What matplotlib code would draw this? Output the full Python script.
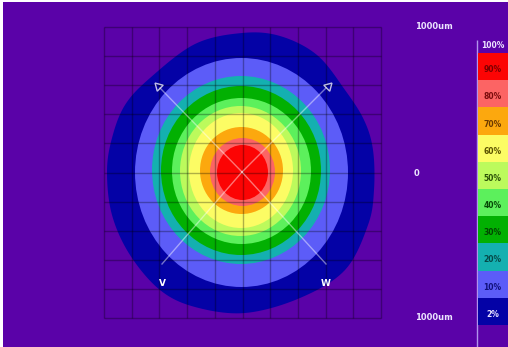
###############################
#####   Import Libraries  #####
###############################
import matplotlib
matplotlib.use("Agg")
import matplotlib.pyplot as plt
import matplotlib.patches as mpatches
import numpy as np

###############################
#####   Data (read off)   #####
###############################
# Intensity levels shown on the colour scale (percent of peak)
levels = [2, 10, 20, 30, 40, 50, 60, 70, 80, 90]
level_labels = ["2%", "10%", "20%", "30%", "40%", "50%", "60%", "70%", "80%", "90%"]
level_colors = ["#0402a6", "#5c5cf8", "#14b0b0", "#02b002", "#5cf05c",
                "#bcfa5c", "#fcfc64", "#fca80e", "#fc6464", "#fc0404"]
label_colors = ["#e8e0ff", "#10107a", "#064848", "#024402", "#064806",
                "#2a5008", "#5a5000", "#6a3800", "#7a0c0c", "#7a0000"]

# Outer 2% contour, points traced round the beam (pixel coordinates)
outer_x = [242, 280, 317, 345, 364, 373, 374, 368, 345, 300, 245, 195, 160, 130,
           112, 107, 112, 125, 150, 195]
outer_y = [33, 36, 55, 90, 120, 150, 190, 225, 270, 298, 313, 307, 290, 255,
           215, 172, 138, 105, 78, 44]

# Extents of the inner contours 10% .. 90% (left, right, top, bottom)
ring_left = [135, 152, 161, 172, 180, 189, 200, 210, 217]
ring_right = [348, 330, 321, 311, 301, 293, 283, 275, 268]
ring_top = [58, 76, 86, 98, 106, 113, 127, 138, 145]
ring_bottom = [287, 264, 255, 244, 236, 228, 214, 206, 200]

axis_labels = ["1000um", "0", "1000um"]
direction_labels = ["V", "W"]

background = "#5a02a8"


def smooth_closed(xs, ys, n=12):
    # closed Catmull-Rom curve through the traced points
    px = np.array(xs, float)
    py = np.array(ys, float)
    out_x, out_y = [], []
    m = len(px)
    t = np.linspace(0, 1, n, endpoint=False)
    for i in range(m):
        p0, p1, p2, p3 = (i - 1) % m, i, (i + 1) % m, (i + 2) % m
        for arr, out in ((px, out_x), (py, out_y)):
            a0, a1, a2, a3 = arr[p0], arr[p1], arr[p2], arr[p3]
            out.extend(0.5 * ((2 * a1) + (-a0 + a2) * t
                              + (2 * a0 - 5 * a1 + 4 * a2 - a3) * t ** 2
                              + (-a0 + 3 * a1 - 3 * a2 + a3) * t ** 3))
    return np.column_stack([out_x, out_y])


####################################
##       Build the figure         ##
####################################
W, H = 508, 347
fig = plt.figure(figsize=(W / 100, H / 100), dpi=100, facecolor="white")
ax = fig.add_axes([0, 0, 1, 1])
ax.set_xlim(0, W)
ax.set_ylim(H, 0)
ax.axis("off")

# purple canvas with a thin white frame on the left / top
ax.add_patch(mpatches.Rectangle((2.5, 1.5), W + 10, H + 10, color=background,
                                lw=0, zorder=0, clip_on=False))

# outer 2% region
ax.add_patch(mpatches.Polygon(smooth_closed(outer_x, outer_y), closed=True,
                              color=level_colors[0], lw=0, zorder=1))
# inner contour regions
for i in range(len(ring_left)):
    cx = (ring_left[i] + ring_right[i]) / 2
    cy = (ring_top[i] + ring_bottom[i]) / 2
    ax.add_patch(mpatches.Ellipse((cx, cy), ring_right[i] - ring_left[i],
                                  ring_bottom[i] - ring_top[i],
                                  color=level_colors[i + 1], lw=0, zorder=2 + i))

# measurement grid
gx = np.linspace(104, 381, 11)
gy = np.linspace(27, 318, 11)
ax.vlines(gx, gy[0], gy[-1], color="black", alpha=0.3, lw=1, zorder=20)
ax.hlines(gy, gx[0], gx[-1], color="black", alpha=0.3, lw=1, zorder=20)

# diagonal axes through the centre
cx0, cy0 = 242, 172
line_kw = dict(color="white", alpha=0.45, lw=1, zorder=21)
ax.plot([cx0, 160], [cy0, 88], **line_kw)
ax.plot([cx0, 326], [cy0, 88], **line_kw)
ax.plot([cx0, 162], [cy0, 264], **line_kw)
ax.plot([cx0, 326], [cy0, 264], **line_kw)
ax.plot(158, 86, marker=(3, 0, 45), ms=7, mfc="none", mec="white", mew=1,
        alpha=0.75, zorder=22)
ax.plot(328, 86, marker=(3, 0, -45), ms=7, mfc="none", mec="white", mew=1,
        alpha=0.75, zorder=22)
ax.text(162, 284, direction_labels[0], color="white", fontsize=6.5,
        fontweight="bold", ha="center", va="center", zorder=23)
ax.text(326, 284, direction_labels[1], color="white", fontsize=6.5,
        fontweight="bold", ha="center", va="center", zorder=23)

# scale labels
txt_kw = dict(color="#ece4ff", fontsize=6, fontweight="bold", va="center", zorder=23)
ax.text(415, 26, axis_labels[0], ha="left", **txt_kw)
ax.text(416, 173, axis_labels[1], ha="center", **txt_kw)
ax.text(415, 318, axis_labels[2], ha="left", **txt_kw)

####################################
##        Colour scale bar        ##
####################################
bar_x0, bar_x1 = 478, 507
bar_top, bar_bottom = 53, 325
cell_h = (bar_bottom - bar_top) / len(levels)
ax.vlines(477, 40, H, color="#c8b8ff", lw=1, alpha=0.8, zorder=5)
for i, lev in enumerate(levels):
    # highest level at the top
    y0 = bar_bottom - (i + 1) * cell_h
    ax.add_patch(mpatches.Rectangle((bar_x0, y0), bar_x1 - bar_x0 + 2, cell_h,
                                    color=level_colors[i], lw=0, zorder=6))
    ax.text((bar_x0 + bar_x1) / 2, y0 + cell_h / 2 + 3, level_labels[i],
            color=label_colors[i], fontsize=5.5, fontweight="bold",
            ha="center", va="center", zorder=7)
ax.text((bar_x0 + bar_x1) / 2, 45, "100%", color="#ece4ff", fontsize=5.5,
        fontweight="bold", ha="center", va="center", zorder=7)

fig.savefig("out.png", dpi=100, facecolor=fig.get_facecolor())
